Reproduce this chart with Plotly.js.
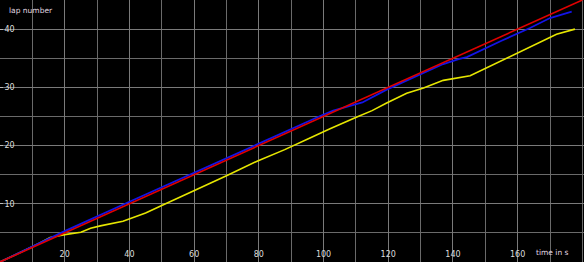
<!DOCTYPE html>
<html>
<head>
<meta charset="utf-8">
<script src="https://cdn.plot.ly/plotly-3.0.1.min.js"></script>
<style>html,body{margin:0;padding:0;background:#fff;}#chart{width:584px;height:265px;}</style>
</head>
<body>
<div id="chart"></div>
<script>
const redTime = [0, 180];
const redLap = [0, 45];

const blueTime = [0, 10, 20, 40, 60, 80, 96, 99.5, 103, 109, 112, 119.5, 130, 137, 142, 144.3, 155, 163.8, 170, 176.7];
const blueLap = [0, 2.7, 5.3, 10.35, 15.35, 20.35, 24.4, 25.2, 26.0, 26.9, 27.4, 29.6, 32.3, 34.0, 34.9, 35.2, 38.0, 40.2, 41.9, 43.0];

const yellowTime = [0, 4, 8, 12, 15.5, 20, 25, 28, 31, 38, 45, 50, 55.6, 61.8, 70, 79.8, 88, 95.8, 102, 110.3, 115, 119.5, 125.7, 130.9, 137, 145.3, 152, 158, 164, 169, 172, 177.7];
const yellowLap = [0, 1.0, 2.1, 3.2, 4.2, 4.7, 5.1, 5.8, 6.2, 7.0, 8.4, 9.7, 11.1, 12.7, 14.8, 17.4, 19.3, 21.3, 22.9, 24.9, 26.0, 27.3, 29.0, 29.9, 31.2, 32.0, 33.8, 35.4, 36.9, 38.3, 39.1, 40.0];

const xTickVals = [20, 40, 60, 80, 100, 120, 140, 160];
const yTickVals = [10, 20, 30, 40];

const traces = [
  {x: yellowTime, y: yellowLap, mode: 'lines', line: {color: '#e6e600', width: 1.6}, hoverinfo: 'skip'},
  {x: blueTime, y: blueLap, mode: 'lines', line: {color: '#1414e6', width: 1.8}, hoverinfo: 'skip'},
  {x: redTime, y: redLap, mode: 'lines', line: {color: '#e00000', width: 1.6}, hoverinfo: 'skip'}
];

const layout = {
  width: 584, height: 265,
  margin: {l: 0, r: 0, t: 0, b: 3, pad: 0},
  paper_bgcolor: '#ffffff',
  plot_bgcolor: '#000000',
  showlegend: false,
  font: {family: 'DejaVu Sans, sans-serif', size: 8, color: '#dddddd'},
  xaxis: {
    range: [0, 180.5], tickvals: xTickVals, ticktext: xTickVals.map(String),
    ticklabelposition: 'inside', ticks: '', showgrid: true, gridcolor: '#7a7a7a', gridwidth: 1,
    minor: {dtick: 10, tick0: 0, showgrid: true, gridcolor: '#6a6a6a', gridwidth: 1},
    zeroline: false, showline: false, tickfont: {size: 8, color: '#dddddd'}, fixedrange: true
  },
  yaxis: {
    range: [0, 45], tickvals: yTickVals, ticktext: yTickVals.map(String),
    ticklabelposition: 'inside', ticks: 'inside', ticklen: 3, tickcolor: '#bbbbbb',
    showgrid: true, gridcolor: '#7a7a7a', gridwidth: 1,
    minor: {dtick: 5, tick0: 0, showgrid: true, gridcolor: '#6a6a6a', gridwidth: 1},
    zeroline: false, showline: true, linecolor: '#9a9a9a', linewidth: 2,
    tickfont: {size: 8, color: '#dddddd'}, fixedrange: true
  },
  annotations: [
    {text: 'lap number', xref: 'paper', yref: 'paper', x: 0.012, y: 0.96, xanchor: 'left', yanchor: 'middle', showarrow: false, font: {size: 7.5, color: '#e0d8e0'}},
    {text: 'time in s', xref: 'paper', yref: 'paper', x: 0.978, y: 0.035, xanchor: 'right', yanchor: 'middle', showarrow: false, font: {size: 7.5, color: '#e0d8e0'}}
  ]
};

Plotly.newPlot('chart', traces, layout, {displayModeBar: false, staticPlot: true});
</script>
</body>
</html>
